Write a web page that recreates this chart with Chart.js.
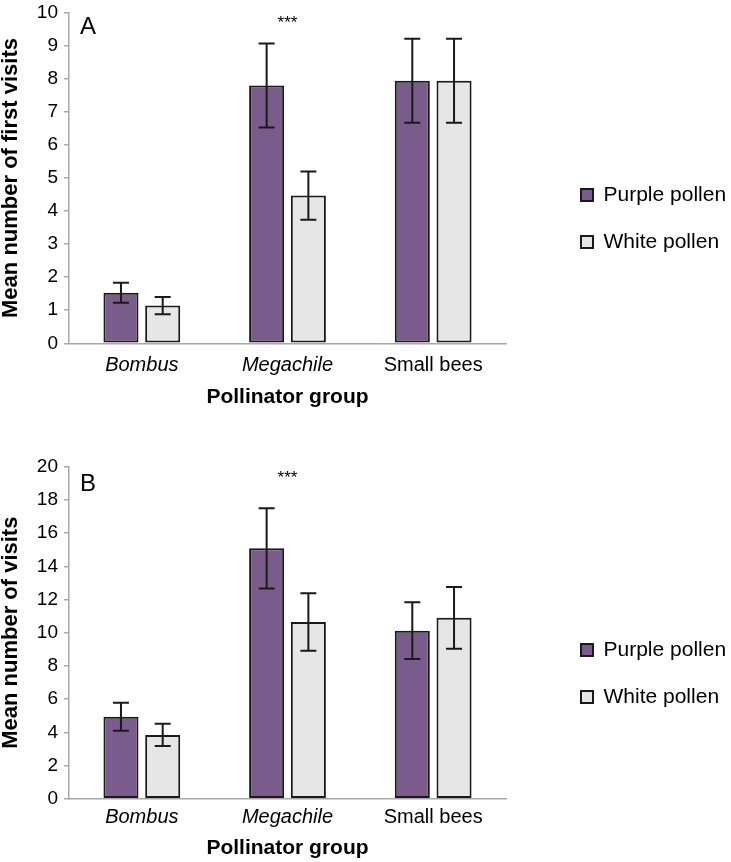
<!DOCTYPE html>
<html>
<head>
<meta charset="utf-8">
<script src="https://cdn.jsdelivr.net/npm/chart.js@4.4.1/dist/chart.umd.min.js"></script>
<style>
  html, body { margin: 0; padding: 0; background: #fff; overflow: hidden; }
  .panel { position: absolute; left: 0; width: 731px; }
</style>
</head>
<body>
<div class="panel" style="top:0;height:430px"><canvas id="chartA" width="731" height="430"></canvas></div>
<div class="panel" style="top:430px;height:432px"><canvas id="chartB" width="731" height="432"></canvas></div>
<script>
// カテゴリと系列
const groups = ['Bombus', 'Megachile', 'Small bees'];
const seriesNames = ['Purple pollen', 'White pollen'];

// A: first visits (平均 と 誤差)
const firstPurple = [1.53, 7.80, 7.94];
const firstPurpleErr = [0.30, 1.27, 1.27];
const firstWhite = [1.14, 4.47, 7.94];
const firstWhiteErr = [0.26, 0.73, 1.27];

// B: visits
const visitsPurple = [4.94, 15.08, 10.12];
const visitsPurpleErr = [0.84, 2.41, 1.71];
const visitsWhite = [3.84, 10.64, 10.90];
const visitsWhiteErr = [0.67, 1.73, 1.86];

// 有意差の印
const sigMarks = ['', '***', ''];
const sigLevelA = 9.55;
const sigLevelB = 19.0;

const PURPLE = '#7a5c8c';
const WHITE = '#e6e6e6';
const EDGE = '#1a1a1a';
const AXIS = '#a8a8a8';
const FONT = "'Liberation Sans', Arial, Helvetica, sans-serif";

// error bars + panel letter + stars
const extrasPlugin = {
    id: 'extras',
    afterDatasetsDraw(chart, args, opts) {
        const ctx = chart.ctx;
        const y = chart.scales.y;
        const x = chart.scales.x;
        ctx.save();
        ctx.strokeStyle = EDGE;
        ctx.lineWidth = 2;
        chart.data.datasets.forEach((ds, di) => {
            const meta = chart.getDatasetMeta(di);
            meta.data.forEach((bar, i) => {
                const hi = y.getPixelForValue(ds.data[i] + ds.err[i]);
                const lo = y.getPixelForValue(ds.data[i] - ds.err[i]);
                const cap = 8;
                ctx.beginPath();
                ctx.moveTo(bar.x, hi); ctx.lineTo(bar.x, lo);
                ctx.moveTo(bar.x - cap, hi); ctx.lineTo(bar.x + cap, hi);
                ctx.moveTo(bar.x - cap, lo); ctx.lineTo(bar.x + cap, lo);
                ctx.stroke();
            });
        });
        ctx.fillStyle = '#000';
        ctx.textAlign = 'center';
        ctx.textBaseline = 'alphabetic';
        ctx.font = '17px ' + FONT;
        opts.marks.forEach((m, i) => {
            if (m) ctx.fillText(m, x.getPixelForValue(i), y.getPixelForValue(opts.level));
        });
        ctx.textAlign = 'left';
        ctx.textBaseline = 'middle';
        ctx.font = '24px ' + FONT;
        ctx.fillText(opts.letter, chart.chartArea.left + 11, chart.chartArea.top + opts.letterDy);
        ctx.restore();
    }
};

function makeChart(id, cfg) {
    return new Chart(document.getElementById(id), {
        type: 'bar',
        data: {
            labels: groups,
            datasets: [
                { label: seriesNames[0], data: cfg.purple, err: cfg.purpleErr, backgroundColor: PURPLE,
                  borderColor: EDGE, borderWidth: 2, borderSkipped: false,
                  categoryPercentage: 0.573, barPercentage: 0.84 },
                { label: seriesNames[1], data: cfg.white, err: cfg.whiteErr, backgroundColor: WHITE,
                  borderColor: EDGE, borderWidth: 2, borderSkipped: false,
                  categoryPercentage: 0.573, barPercentage: 0.84 }
            ]
        },
        options: {
            responsive: false,
            animation: false,
            devicePixelRatio: 1,
            layout: { padding: { left: 0, right: 0, top: cfg.padTop, bottom: cfg.padBottom } },
            plugins: {
                tooltip: { enabled: false },
                legend: {
                    position: 'right',
                    align: 'start',
                    maxWidth: 176,
                    // 空のタイトルで凡例を下にずらす
                    title: { display: true, text: '', font: { size: 1, lineHeight: 1 },
                             padding: { top: cfg.legendDrop, bottom: 0 } },
                    labels: {
                        boxWidth: 12, boxHeight: 12, padding: 26, color: '#000',
                        font: { family: FONT, size: 21 }
                    }
                },
                extras: { marks: sigMarks, level: cfg.sigLevel, letter: cfg.letter, letterDy: cfg.letterDy }
            },
            scales: {
                x: {
                    grid: { display: false, drawTicks: false },
                    border: { display: true, color: AXIS, width: 1.5 },
                    ticks: {
                        color: '#000', padding: cfg.xPad,
                        font: (c) => ({ family: FONT, size: 20, style: c.index < 2 ? 'italic' : 'normal' })
                    },
                    title: { display: true, text: 'Pollinator group', color: '#000',
                             font: { family: FONT, size: 21, weight: 'bold', lineHeight: 1 },
                             padding: { top: 0, bottom: 0 } },
                    afterFit: (s) => { s.height = cfg.xHeight; }
                },
                y: {
                    min: 0, max: cfg.max,
                    ticks: { stepSize: cfg.step, color: '#000', padding: 6, font: { family: FONT, size: 19 } },
                    grid: { display: true, drawOnChartArea: false, drawTicks: true, tickLength: 5, color: AXIS, lineWidth: 1.5 },
                    border: { display: true, color: AXIS, width: 1.5 },
                    title: { display: true, text: cfg.yTitle, color: '#000',
                             font: { family: FONT, size: 22, weight: 'bold', lineHeight: 1 }, padding: 0 },
                    afterFit: (s) => { s.width = 69; s.paddingTop = 0; s.paddingBottom = 0; }
                },
                // 凡例との間の空き
                gap: {
                    type: 'linear', position: 'right', display: true,
                    grid: { display: false }, border: { display: false }, ticks: { display: false },
                    afterFit: (s) => { s.width = 49; s.paddingTop = 0; s.paddingBottom = 0; }
                }
            }
        },
        plugins: [extrasPlugin]
    });
}

makeChart('chartA', {
    purple: firstPurple, purpleErr: firstPurpleErr, white: firstWhite, whiteErr: firstWhiteErr,
    max: 10, step: 1, yTitle: 'Mean number of first visits', sigLevel: sigLevelA,
    letter: 'A', letterDy: 15, padTop: 12.7, padBottom: 22, xHeight: 64.7, xPad: 10, legendDrop: 144.8
});
makeChart('chartB', {
    purple: visitsPurple, purpleErr: visitsPurpleErr, white: visitsWhite, whiteErr: visitsWhiteErr,
    max: 20, step: 2, yTitle: 'Mean number of visits', sigLevel: sigLevelB,
    letter: 'B', letterDy: 18, padTop: 36.7, padBottom: 3.2, xHeight: 60.1, xPad: 6.5, legendDrop: 145.8
});
</script>
</body>
</html>
